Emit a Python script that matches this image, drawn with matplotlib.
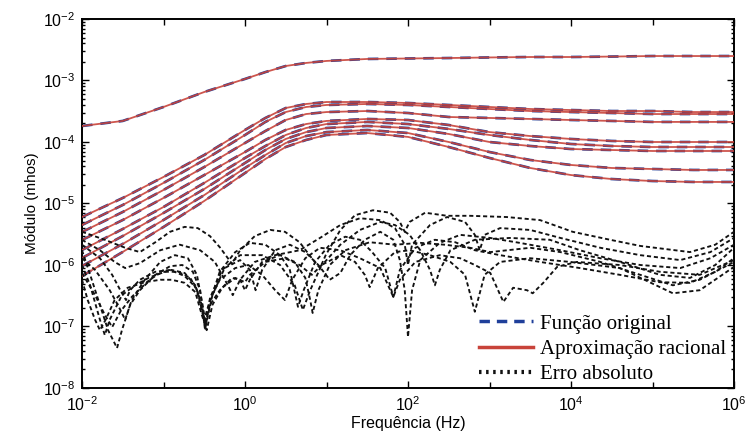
import numpy as np
import matplotlib
matplotlib.use("Agg")
import matplotlib.pyplot as plt
from matplotlib.lines import Line2D
from matplotlib.ticker import FixedLocator, LogLocator, NullFormatter, LogFormatterSciNotation

plt.rcParams["font.family"] = ["Liberation Sans", "DejaVu Sans"]
plt.rcParams["mathtext.default"] = "regular"

# Frequency grid (log10 of Hz) for the admittance magnitudes
freq_log10 = [-2, -1.5, -1, -0.5, 0, 0.25, 0.5, 0.75, 1, 1.5, 2, 2.5, 3, 3.5, 4, 4.5, 5, 5.5, 6]

# Admittance magnitudes (mhos)
y_self = [1.82e-4, 2.20e-4, 3.71e-4, 6.50e-4, 1.06e-3, 1.37e-3, 1.72e-3, 1.93e-3, 2.08e-3, 2.24e-3,
          2.28e-3, 2.32e-3, 2.37e-3, 2.41e-3, 2.41e-3, 2.45e-3, 2.50e-3, 2.50e-3, 2.50e-3]
y_m1 = [6.03e-6, 1.23e-5, 2.70e-5, 6.15e-5, 1.57e-4, 2.46e-4, 3.57e-4, 4.15e-4, 4.47e-4, 4.47e-4,
        4.31e-4, 4.00e-4, 3.71e-4, 3.44e-4, 3.31e-4, 3.19e-4, 3.19e-4, 3.07e-4, 3.07e-4]
y_m2 = [4.47e-6, 9.46e-6, 2.16e-5, 5.10e-5, 1.30e-4, 2.12e-4, 3.07e-4, 3.71e-4, 4.00e-4, 4.15e-4,
        4.00e-4, 3.71e-4, 3.44e-4, 3.19e-4, 3.07e-4, 2.96e-4, 2.85e-4, 2.85e-4, 2.85e-4]
y_m3 = [3.44e-6, 7.28e-6, 1.66e-5, 3.92e-5, 9.64e-5, 1.51e-4, 2.28e-4, 2.85e-4, 3.07e-4, 3.19e-4,
        2.96e-4, 2.55e-4, 2.46e-4, 2.37e-4, 2.28e-4, 2.20e-4, 2.12e-4, 2.12e-4, 2.12e-4]
y_m4 = [2.55e-6, 5.39e-6, 1.23e-5, 2.90e-5, 6.87e-5, 1.08e-4, 1.57e-4, 1.96e-4, 2.20e-4, 2.37e-4,
        2.28e-4, 1.89e-4, 1.45e-4, 1.25e-4, 1.12e-4, 1.04e-4, 1.00e-4, 1.00e-4, 1.00e-4]
y_m5 = [1.75e-6, 3.85e-6, 8.77e-6, 2.16e-5, 5.50e-5, 8.61e-5, 1.30e-4, 1.69e-4, 1.96e-4, 2.12e-4,
        1.96e-4, 1.63e-4, 1.30e-4, 1.08e-4, 9.28e-5, 8.61e-5, 8.29e-5, 8.29e-5, 8.29e-5]
y_m6 = [1.30e-6, 2.96e-6, 7.01e-6, 1.72e-5, 4.56e-5, 7.41e-5, 1.12e-4, 1.45e-4, 1.69e-4, 1.82e-4,
        1.69e-4, 1.35e-4, 1.00e-4, 8.61e-5, 7.69e-5, 7.41e-5, 7.14e-5, 7.14e-5, 7.14e-5]
y_m7 = [9.64e-7, 2.20e-6, 5.39e-6, 1.37e-5, 3.78e-5, 6.15e-5, 9.64e-5, 1.25e-4, 1.45e-4, 1.57e-4,
        1.40e-4, 1.00e-4, 6.87e-5, 5.10e-5, 4.23e-5, 3.78e-5, 3.64e-5, 3.51e-5, 3.51e-5]
y_m8 = [6.62e-7, 1.63e-6, 4.15e-6, 1.10e-5, 3.13e-5, 5.29e-5, 8.29e-5, 1.08e-4, 1.30e-4, 1.40e-4,
        1.21e-4, 8.29e-5, 5.50e-5, 3.78e-5, 2.90e-5, 2.50e-5, 2.32e-5, 2.24e-5, 2.24e-5]

admittances = [y_self, y_m1, y_m2, y_m3, y_m4, y_m5, y_m6, y_m7, y_m8]

# Absolute fitting error: (log10 frequency, log10 magnitude) for each element
err1_f = [-2.00, -1.72, -1.47, -1.29, -1.10, -0.92, -0.74, -0.58, -0.43, -0.31, -0.21, -0.16, -0.06, 0.12,
          0.31, 0.49, 0.67, 0.82, 0.92, 0.99, 1.17, 1.35, 1.57, 1.78, 1.90, 1.96, 2.02, 2.21, 2.48, 2.76,
          3.21, 3.62, 4.02, 4.48, 4.85, 5.46, 5.77, 6.00]
err1_m = [-5.46, -5.59, -5.72, -5.79, -5.63, -5.46, -5.38, -5.40, -5.53, -5.71, -5.89, -5.98, -5.76, -5.53,
          -5.43, -5.46, -5.63, -5.89, -6.05, -5.84, -5.43, -5.19, -5.11, -5.15, -5.30, -5.46, -5.30, -5.15,
          -5.20, -5.20, -5.22, -5.27, -5.46, -5.59, -5.69, -5.79, -5.67, -5.46]

err2_f = [-2.00, -1.84, -1.72, -1.63, -1.53, -1.39, -1.17, -1.04, -0.90, -0.74, -0.61, -0.53, -0.49, -0.43,
          -0.31, -0.12, 0.06, 0.25, 0.43, 0.55, 0.65, 0.72, 0.86, 1.04, 1.23, 1.41, 1.56, 1.72, 1.82, 1.90,
          2.09, 2.33, 2.58, 2.82, 3.13, 3.62, 4.11, 4.60, 5.09, 5.46, 5.77, 6.00]
err2_m = [-6.13, -6.49, -6.81, -7.01, -6.76, -6.52, -6.24, -6.13, -6.08, -6.13, -6.33, -6.65, -6.93, -6.60,
          -6.11, -5.79, -5.64, -5.67, -5.84, -6.08, -6.68, -6.41, -5.95, -5.67, -5.54, -5.59, -5.79, -6.05,
          -6.52, -6.08, -5.72, -5.59, -5.63, -5.76, -5.84, -5.95, -6.05, -6.16, -6.28, -6.29, -6.11, -5.89]

err3_f = [-2.00, -1.88, -1.78, -1.68, -1.57, -1.51, -1.41, -1.29, -1.10, -0.92, -0.77, -0.64, -0.55, -0.49,
          -0.43, -0.28, -0.06, 0.21, 0.43, 0.61, 0.71, 0.80, 0.94, 1.17, 1.35, 1.47, 1.53, 1.63, 1.84, 2.02,
          2.27, 2.52, 2.70, 2.82, 2.94, 3.13, 3.50, 3.99, 4.60, 5.25, 5.58, 6.00]
err3_m = [-5.76, -6.24, -6.65, -7.06, -7.35, -7.06, -6.65, -6.41, -6.16, -6.02, -6.00, -6.11, -6.41, -7.06,
          -6.54, -6.08, -5.84, -5.84, -6.00, -6.33, -6.73, -6.41, -6.00, -5.84, -5.95, -6.16, -6.36, -6.05,
          -5.79, -5.76, -5.84, -5.95, -6.16, -6.76, -6.16, -5.95, -5.89, -5.95, -6.05, -6.46, -6.41, -6.03]

err4_f = [-2.00, -1.84, -1.66, -1.56, -1.47, -1.39, -1.23, -1.04, -0.86, -0.70, -0.59, -0.52, -0.48, -0.40,
          -0.25, -0.06, 0.06, 0.13, 0.21, 0.37, 0.55, 0.74, 0.90, 1.04, 1.17, 1.29, 1.47, 1.66, 1.82, 1.90,
          1.96, 2.00, 2.05, 2.15, 2.39, 2.64, 3.01, 3.37, 3.87, 4.36, 4.85, 5.34, 5.71, 6.00]
err4_m = [-5.89, -6.08, -6.41, -6.65, -6.89, -6.57, -6.24, -5.95, -5.84, -5.89, -6.16, -6.65, -6.98, -6.49,
          -6.05, -5.92, -6.08, -6.41, -6.08, -5.76, -5.67, -5.79, -6.00, -6.24, -6.13, -5.84, -5.59, -5.46,
          -5.59, -5.92, -6.41, -7.17, -6.41, -5.92, -5.64, -5.51, -5.56, -5.64, -5.76, -5.89, -6.00, -6.05,
          -5.89, -5.67]

err5_f = [-2.00, -1.90, -1.78, -1.72, -1.66, -1.51, -1.35, -1.17, -0.98, -0.82, -0.67, -0.58, -0.50, -0.43,
          -0.31, -0.12, 0.04, 0.21, 0.37, 0.49, 0.58, 0.74, 0.92, 1.17, 1.41, 1.66, 1.82, 1.90, 2.09, 2.39,
          2.64, 2.82, 3.01, 3.17, 3.29, 3.46, 3.53, 3.66, 3.83, 4.07, 4.60, 5.09, 5.58, 6.00]
err5_m = [-6.00, -6.33, -6.89, -7.14, -6.89, -6.49, -6.33, -6.20, -6.11, -6.11, -6.21, -6.44, -6.89, -6.57,
          -6.24, -6.05, -6.00, -6.16, -6.41, -6.57, -6.24, -5.89, -5.72, -5.76, -5.89, -6.05, -6.52, -6.24,
          -5.95, -5.84, -5.89, -6.00, -6.13, -6.60, -6.37, -6.41, -6.46, -6.29, -6.03, -5.95, -6.00, -6.11,
          -6.16, -5.92]

err6_f = [-2.00, -1.78, -1.63, -1.53, -1.46, -1.41, -1.29, -1.10, -0.92, -0.74, -0.60, -0.53, -0.49, -0.43,
          -0.31, -0.16, -0.06, 0.00, 0.06, 0.21, 0.43, 0.61, 0.74, 0.80, 0.83, 0.90, 1.04, 1.23, 1.53, 1.84,
          2.15, 2.45, 2.76, 3.01, 3.50, 3.87, 4.36, 4.85, 5.25, 5.58, 6.00]
err6_m = [-5.67, -5.89, -6.16, -6.41, -6.57, -6.41, -6.24, -6.11, -6.08, -6.18, -6.37, -6.73, -6.98, -6.65,
          -6.41, -6.21, -6.24, -6.41, -6.24, -5.95, -5.84, -5.95, -6.21, -6.57, -6.78, -6.41, -6.00, -5.76,
          -5.63, -5.67, -5.64, -5.67, -5.72, -5.79, -5.72, -5.79, -5.95, -6.16, -6.33, -6.24, -5.95]

err7_f = [-2.00, -1.93, -1.84, -1.78, -1.71, -1.60, -1.44, -1.23, -1.04, -0.90, -0.74, -0.61, -0.53, -0.47,
          -0.40, -0.28, -0.12, 0.00, 0.06, 0.25, 0.49, 0.67, 0.82, 0.98, 1.17, 1.41, 1.66, 1.84, 2.02, 2.15,
          2.27, 2.33, 2.39, 2.52, 2.82, 3.25, 3.74, 4.11, 4.60, 5.09, 5.46, 5.77, 6.00]
err7_m = [-6.24, -6.57, -6.89, -7.06, -6.89, -6.57, -6.37, -6.28, -6.24, -6.24, -6.29, -6.44, -6.81, -7.06,
          -6.65, -6.37, -6.21, -6.28, -6.16, -5.95, -5.89, -6.00, -6.16, -5.95, -5.67, -5.43, -5.30, -5.35,
          -5.51, -5.76, -6.08, -6.33, -6.08, -5.76, -5.59, -5.56, -5.59, -5.76, -5.95, -6.16, -6.21, -6.00,
          -5.72]

err8_f = [-2.00, -1.78, -1.60, -1.47, -1.29, -1.04, -0.80, -0.55, -0.37, -0.21, -0.15, -0.06, 0.12, 0.37,
          0.67, 0.92, 1.17, 1.41, 1.66, 1.84, 1.96, 2.00, 2.05, 2.27, 2.48, 2.70, 2.82, 2.88, 2.94, 3.13,
          3.50, 3.87, 4.36, 4.85, 5.34, 5.71, 6.00]
err8_m = [-5.59, -5.76, -5.95, -6.05, -5.97, -5.76, -5.67, -5.76, -5.95, -6.33, -6.49, -6.24, -5.95, -5.84,
          -5.76, -5.56, -5.35, -5.24, -5.27, -5.40, -5.67, -6.00, -5.67, -5.35, -5.22, -5.30, -5.51, -5.76,
          -5.51, -5.40, -5.43, -5.56, -5.72, -5.84, -5.92, -5.79, -5.56]

errors = [(err1_f, err1_m), (err2_f, err2_m), (err3_f, err3_m), (err4_f, err4_m),
          (err5_f, err5_m), (err6_f, err6_m), (err7_f, err7_m), (err8_f, err8_m)]

legend_labels = ["Função original", "Aproximação racional", "Erro absoluto"]
x_label = "Frequência (Hz)"
y_label = "Módulo (mhos)"

BLUE = "#1f3f9a"
RED = "#c8433a"
BLACK = "#111111"

fig = plt.figure(figsize=(7.48, 4.43), dpi=100)
ax = fig.add_axes([82 / 748, 1 - 388 / 443, (734 - 82) / 748, (388 - 19) / 443])

freq = 10.0 ** np.array(freq_log10)
for y in admittances:
    ax.plot(freq, y, color=BLUE, lw=1.9, ls=(0, (4, 3)), zorder=2)
    ax.plot(freq, y, color=RED, lw=1.3, zorder=3, alpha=0.9)

for f_l, m_l in errors:
    ax.plot(10.0 ** np.array(f_l), 10.0 ** np.array(m_l), color=BLACK, lw=1.35,
            ls=(0, (2.2, 1.5)), zorder=4)

ax.set_xscale("log")
ax.set_yscale("log")
ax.set_xlim(1e-2, 1e6)
ax.set_ylim(1e-8, 1e-2)

ax.xaxis.set_major_locator(FixedLocator([1e-2, 1e0, 1e2, 1e4, 1e6]))
ax.xaxis.set_minor_locator(FixedLocator([1e-1, 1e1, 1e3, 1e5]))
ax.xaxis.set_major_formatter(LogFormatterSciNotation())
ax.xaxis.set_minor_formatter(NullFormatter())
ax.yaxis.set_major_locator(LogLocator(base=10, numticks=10))
ax.yaxis.set_minor_locator(LogLocator(base=10, subs=np.arange(2, 10), numticks=20))
ax.yaxis.set_minor_formatter(NullFormatter())

ax.tick_params(which="both", direction="in", top=True, right=True, labelsize=11.5, width=1.0)
ax.tick_params(which="major", length=5, pad=5)
ax.tick_params(which="minor", length=2.5)
ax.tick_params(axis="x", which="minor", length=4)
for s in ax.spines.values():
    s.set_linewidth(1.4)

ax.set_xlabel(x_label, fontsize=11.5, labelpad=2)
ax.set_ylabel(y_label, fontsize=11, labelpad=3)

handles = [Line2D([], [], color=BLUE, lw=2.5, ls=(0, (3, 2))),
           Line2D([], [], color=RED, lw=2.5),
           Line2D([], [], color=BLACK, lw=3.0, ls=(0, (0.6, 1.1)))]
leg = ax.legend(handles, legend_labels, loc="lower right", bbox_to_anchor=(1.0, -0.012),
                frameon=False, prop={"family": "Liberation Serif", "size": 15},
                handlelength=2.6, handletextpad=0.3, labelspacing=0.27, borderaxespad=0.0)

fig.savefig("out.png", dpi=100)
